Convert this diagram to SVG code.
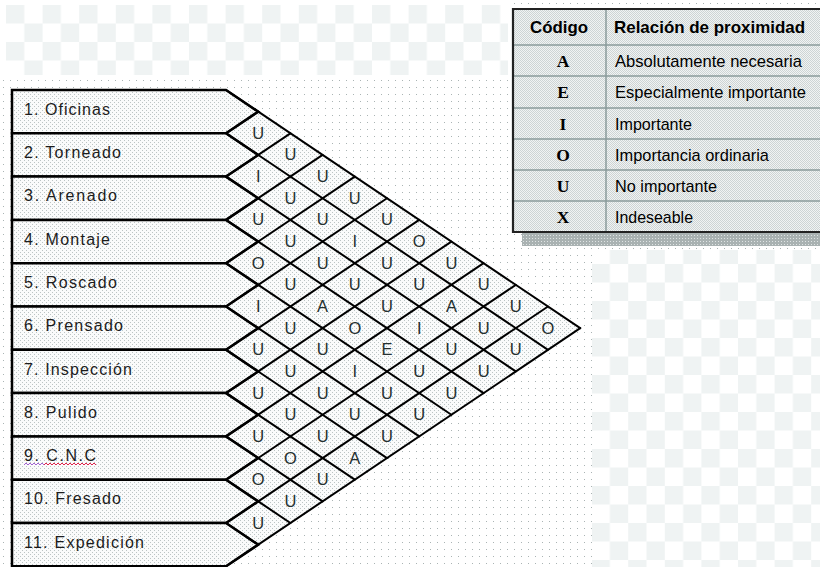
<svg xmlns="http://www.w3.org/2000/svg" width="820" height="567" viewBox="0 0 820 567">
<defs>
  <pattern id="dense" width="4" height="4" patternUnits="userSpaceOnUse">
    <rect width="4" height="4" fill="#fafbfb"/>
    <rect x="0" y="0" width="1" height="1" fill="#bcc4c4"/>
    <rect x="2" y="2" width="1" height="1" fill="#bcc4c4"/>
  </pattern>
  <pattern id="sparse" width="7" height="7" patternUnits="userSpaceOnUse">
    <rect width="7" height="7" fill="#ffffff"/>
    <rect x="3" y="3" width="1" height="1" fill="#aab4b4"/>
  </pattern>
  <pattern id="checker" x="6" y="5" width="36.6" height="37" patternUnits="userSpaceOnUse">
    <rect width="36.6" height="37" fill="#ffffff"/>
    <rect width="18.3" height="18.5" fill="#eff3f3"/>
    <rect x="18.3" y="18.5" width="18.3" height="18.5" fill="#eff3f3"/>
  </pattern>
  <pattern id="hatch" width="2" height="2" patternUnits="userSpaceOnUse">
    <rect width="2" height="2" fill="#f1f3f3"/>
    <rect x="0" y="0" width="1" height="1" fill="#cdd4d4"/>
    <rect x="1" y="1" width="1" height="1" fill="#cdd4d4"/>
  </pattern>
  <pattern id="shadow" width="3" height="3" patternUnits="userSpaceOnUse">
    <rect width="3" height="3" fill="#a9b2b2"/>
    <rect x="1" y="1" width="1" height="1" fill="#dfe4e4"/>
  </pattern>
  <style>
    .row { fill: url(#dense); stroke: #000; stroke-width: 2.5; stroke-linejoin: miter; }
    .lbl { font-family: "Liberation Sans", Arial, sans-serif; font-size: 16px; fill: #1c1c1c; }
    .cell { font-family: "Liberation Sans", Arial, sans-serif; font-size: 16.5px; fill: #253030; text-anchor: middle; }
    .grid line { stroke: #000; stroke-width: 2; stroke-linecap: round; }
    .th { font-family: "Liberation Sans", Arial, sans-serif; font-weight: bold; font-size: 17px; fill: #000; }
    .code { font-family: "Liberation Serif", "Times New Roman", serif; font-weight: bold; font-size: 17.5px; fill: #000; text-anchor: middle; }
    .desc { font-family: "Liberation Sans", Arial, sans-serif; font-size: 17px; fill: #000; }
    .tline { stroke: #8a9b9b; stroke-width: 1.5; }
  </style>
</defs>

<!-- background -->
<rect width="820" height="567" fill="#ffffff"/>
<rect x="6" y="5" width="504" height="70" fill="url(#checker)"/>
<rect x="592" y="250" width="228" height="317" fill="url(#checker)"/>
<rect x="0" y="76" width="592" height="491" fill="url(#sparse)"/>
<rect x="508" y="0" width="312" height="250" fill="url(#sparse)"/>

<!-- diamond field -->
<polygon points="226,90 580.2,328.15 226,566.3" fill="url(#dense)"/>

<!-- rows -->
<g id="row1"><polygon class="row" points="12,90 226,90 258.2,111.65 226,133.3 12,133.3"/><text class="lbl" x="24" y="114.7" textLength="86">1. Oficinas</text></g>
<g id="row2"><polygon class="row" points="12,133.3 226,133.3 258.2,154.95 226,176.6 12,176.6"/><text class="lbl" x="24" y="158" textLength="97">2. Torneado</text></g>
<g id="row3"><polygon class="row" points="12,176.6 226,176.6 258.2,198.25 226,219.9 12,219.9"/><text class="lbl" x="24" y="201.3" textLength="93">3. Arenado</text></g>
<g id="row4"><polygon class="row" points="12,219.9 226,219.9 258.2,241.55 226,263.2 12,263.2"/><text class="lbl" x="24" y="244.6" textLength="86">4. Montaje</text></g>
<g id="row5"><polygon class="row" points="12,263.2 226,263.2 258.2,284.85 226,306.5 12,306.5"/><text class="lbl" x="24" y="287.9" textLength="93">5. Roscado</text></g>
<g id="row6"><polygon class="row" points="12,306.5 226,306.5 258.2,328.15 226,349.8 12,349.8"/><text class="lbl" x="24" y="331.2" textLength="99">6. Prensado</text></g>
<g id="row7"><polygon class="row" points="12,349.8 226,349.8 258.2,371.45 226,393.1 12,393.1"/><text class="lbl" x="24" y="374.5" textLength="108">7. Inspección</text></g>
<g id="row8"><polygon class="row" points="12,393.1 226,393.1 258.2,414.75 226,436.4 12,436.4"/><text class="lbl" x="24" y="417.8" textLength="73">8. Pulido</text></g>
<g id="row9"><polygon class="row" points="12,436.4 226,436.4 258.2,458.05 226,479.7 12,479.7"/><text class="lbl" x="24" y="461.1" textLength="72">9. C.N.C</text>
  <path d="M24 465 l2 -2 l2 2 l2 -2 l2 2 l2 -2 l2 2 l2 -2 l2 2 l2 -2 l2 2" fill="none" stroke="#a060d0" stroke-width="1"/>
  <path d="M44 465 l2 -2 l2 2 l2 -2 l2 2 l2 -2 l2 2 l2 -2 l2 2 l2 -2 l2 2 l2 -2 l2 2 l2 -2 l2 2 l2 -2 l2 2 l2 -2 l2 2 l2 -2 l2 2 l2 -2 l2 2 l2 -2 l2 2 l2 -2 l2 2" fill="none" stroke="#e0204a" stroke-width="1"/>
</g>
<g id="row10"><polygon class="row" points="12,479.7 226,479.7 258.2,501.35 226,523 12,523 "/><text class="lbl" x="24" y="504.4" textLength="97">10. Fresado</text></g>
<g id="row11"><polygon class="row" points="12,523 226,523 258.2,544.65 226,566.3 12,566.3"/><text class="lbl" x="24" y="547.7" textLength="120">11. Expedición</text></g>

<!-- connectors: relationship grid -->
<g id="connectors" class="grid">
  <line x1="226" y1="90" x2="580.2" y2="328.15"/>
  <line x1="226" y1="133.3" x2="548" y2="349.8"/>
  <line x1="226" y1="176.6" x2="515.8" y2="371.45"/>
  <line x1="226" y1="219.9" x2="483.6" y2="393.1"/>
  <line x1="226" y1="263.2" x2="451.4" y2="414.75"/>
  <line x1="226" y1="306.5" x2="419.2" y2="436.4"/>
  <line x1="226" y1="349.8" x2="387" y2="458.05"/>
  <line x1="226" y1="393.1" x2="354.8" y2="479.7"/>
  <line x1="226" y1="436.4" x2="322.6" y2="501.35"/>
  <line x1="226" y1="479.7" x2="290.4" y2="523"/>
  <line x1="226" y1="523" x2="258.2" y2="544.65"/>
  <line x1="226" y1="133.3" x2="258.2" y2="111.65"/>
  <line x1="226" y1="176.6" x2="290.4" y2="133.3"/>
  <line x1="226" y1="219.9" x2="322.6" y2="154.95"/>
  <line x1="226" y1="263.2" x2="354.8" y2="176.6"/>
  <line x1="226" y1="306.5" x2="387" y2="198.25"/>
  <line x1="226" y1="349.8" x2="419.2" y2="219.9"/>
  <line x1="226" y1="393.1" x2="451.4" y2="241.55"/>
  <line x1="226" y1="436.4" x2="483.6" y2="263.2"/>
  <line x1="226" y1="479.7" x2="515.8" y2="284.85"/>
  <line x1="226" y1="523" x2="548" y2="306.5"/>
  <line x1="226" y1="566.3" x2="580.2" y2="328.15"/>
</g>

<!-- relationship codes -->
<g id="codes">
  <text class="cell" x="258.2" y="138.8">U</text>
  <text class="cell" x="290.4" y="160.45">U</text>
  <text class="cell" x="322.6" y="182.1">U</text>
  <text class="cell" x="354.8" y="203.75">U</text>
  <text class="cell" x="387" y="225.4">U</text>
  <text class="cell" x="419.2" y="247.05">O</text>
  <text class="cell" x="451.4" y="268.7">U</text>
  <text class="cell" x="483.6" y="290.35">U</text>
  <text class="cell" x="515.8" y="312">U</text>
  <text class="cell" x="548" y="333.65">O</text>

  <text class="cell" x="258.2" y="182.1">I</text>
  <text class="cell" x="290.4" y="203.75">U</text>
  <text class="cell" x="322.6" y="225.4">U</text>
  <text class="cell" x="354.8" y="247.05">I</text>
  <text class="cell" x="387" y="268.7">U</text>
  <text class="cell" x="419.2" y="290.35">U</text>
  <text class="cell" x="451.4" y="312">A</text>
  <text class="cell" x="483.6" y="333.65">U</text>
  <text class="cell" x="515.8" y="355.3">U</text>

  <text class="cell" x="258.2" y="225.4">U</text>
  <text class="cell" x="290.4" y="247.05">U</text>
  <text class="cell" x="322.6" y="268.7">U</text>
  <text class="cell" x="354.8" y="290.35">U</text>
  <text class="cell" x="387" y="312">U</text>
  <text class="cell" x="419.2" y="333.65">I</text>
  <text class="cell" x="451.4" y="355.3">U</text>
  <text class="cell" x="483.6" y="376.95">U</text>

  <text class="cell" x="258.2" y="268.7">O</text>
  <text class="cell" x="290.4" y="290.35">U</text>
  <text class="cell" x="322.6" y="312">A</text>
  <text class="cell" x="354.8" y="333.65">O</text>
  <text class="cell" x="387" y="355.3">E</text>
  <text class="cell" x="419.2" y="376.95">U</text>
  <text class="cell" x="451.4" y="398.6">U</text>

  <text class="cell" x="258.2" y="312">I</text>
  <text class="cell" x="290.4" y="333.65">U</text>
  <text class="cell" x="322.6" y="355.3">U</text>
  <text class="cell" x="354.8" y="376.95">I</text>
  <text class="cell" x="387" y="398.6">U</text>
  <text class="cell" x="419.2" y="420.25">U</text>

  <text class="cell" x="258.2" y="355.3">U</text>
  <text class="cell" x="290.4" y="376.95">U</text>
  <text class="cell" x="322.6" y="398.6">U</text>
  <text class="cell" x="354.8" y="420.25">U</text>
  <text class="cell" x="387" y="441.9">U</text>

  <text class="cell" x="258.2" y="398.6">U</text>
  <text class="cell" x="290.4" y="420.25">U</text>
  <text class="cell" x="322.6" y="441.9">U</text>
  <text class="cell" x="354.8" y="463.55">A</text>

  <text class="cell" x="258.2" y="441.9">U</text>
  <text class="cell" x="290.4" y="463.55">O</text>
  <text class="cell" x="322.6" y="485.2">U</text>

  <text class="cell" x="258.2" y="485.2">O</text>
  <text class="cell" x="290.4" y="506.85">U</text>

  <text class="cell" x="258.2" y="528.5">U</text>
</g>

<!-- legend table -->
<g id="legend">
  <rect x="522" y="233" width="298" height="13" fill="url(#shadow)"/>
  <rect x="513" y="9" width="310" height="223" fill="url(#hatch)"/>
  <line class="tline" x1="514" y1="45" x2="820" y2="45"/>
  <line class="tline" x1="514" y1="76" x2="820" y2="76"/>
  <line class="tline" x1="514" y1="108" x2="820" y2="108"/>
  <line class="tline" x1="514" y1="139" x2="820" y2="139"/>
  <line class="tline" x1="514" y1="170" x2="820" y2="170"/>
  <line class="tline" x1="514" y1="201" x2="820" y2="201"/>
  <line class="tline" x1="606" y1="10" x2="606" y2="231"/>
  <path d="M822 9 H513 V232 H822" fill="none" stroke="#222" stroke-width="2.2"/>
  <text class="th" x="559" y="33" text-anchor="middle" textLength="58" lengthAdjust="spacingAndGlyphs">Código</text>
  <text class="th" x="614" y="33" textLength="191" lengthAdjust="spacingAndGlyphs">Relación de proximidad</text>
  <text class="code" x="563" y="66.5">A</text>
  <text class="code" x="563" y="98">E</text>
  <text class="code" x="563" y="129.5">I</text>
  <text class="code" x="563" y="160.5">O</text>
  <text class="code" x="563" y="191.5">U</text>
  <text class="code" x="563" y="222.5">X</text>
  <text class="desc" x="615" y="66.5" textLength="187" lengthAdjust="spacingAndGlyphs">Absolutamente necesaria</text>
  <text class="desc" x="615" y="98" textLength="191" lengthAdjust="spacingAndGlyphs">Especialmente importante</text>
  <text class="desc" x="615" y="129.5" textLength="77" lengthAdjust="spacingAndGlyphs">Importante</text>
  <text class="desc" x="615" y="160.5" textLength="154" lengthAdjust="spacingAndGlyphs">Importancia ordinaria</text>
  <text class="desc" x="615" y="191.5" textLength="102" lengthAdjust="spacingAndGlyphs">No importante</text>
  <text class="desc" x="615" y="222.5" textLength="78" lengthAdjust="spacingAndGlyphs">Indeseable</text>
</g>
</svg>
